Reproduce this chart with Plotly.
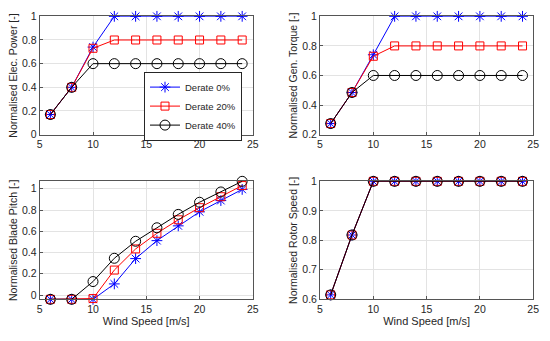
import plotly.graph_objects as go
from plotly.subplots import make_subplots

wind = [6, 8, 10, 12, 14, 16, 18, 20, 22, 24]
series_names = ["Derate 0%", "Derate 20%", "Derate 40%"]

power_0 = [0.17, 0.40, 0.74, 1.0, 1.0, 1.0, 1.0, 1.0, 1.0, 1.0]
power_20 = [0.17, 0.40, 0.73, 0.8, 0.8, 0.8, 0.8, 0.8, 0.8, 0.8]
power_40 = [0.17, 0.40, 0.60, 0.6, 0.6, 0.6, 0.6, 0.6, 0.6, 0.6]

torque_0 = [0.275, 0.485, 0.74, 1.0, 1.0, 1.0, 1.0, 1.0, 1.0, 1.0]
torque_20 = [0.275, 0.485, 0.73, 0.8, 0.8, 0.8, 0.8, 0.8, 0.8, 0.8]
torque_40 = [0.275, 0.485, 0.60, 0.6, 0.6, 0.6, 0.6, 0.6, 0.6, 0.6]

pitch_0 = [-0.04, -0.04, -0.04, 0.105, 0.343, 0.512, 0.651, 0.783, 0.889, 0.994]
pitch_20 = [-0.04, -0.04, -0.033, 0.235, 0.434, 0.581, 0.708, 0.822, 0.925, 1.03]
pitch_40 = [-0.04, -0.04, 0.127, 0.346, 0.506, 0.633, 0.759, 0.873, 0.970, 1.07]

rotor_0 = [0.615, 0.818, 1.0, 1.0, 1.0, 1.0, 1.0, 1.0, 1.0, 1.0]
rotor_20 = [0.615, 0.818, 1.0, 1.0, 1.0, 1.0, 1.0, 1.0, 1.0, 1.0]
rotor_40 = [0.615, 0.818, 1.0, 1.0, 1.0, 1.0, 1.0, 1.0, 1.0, 1.0]

panels = [
    ("Normalised Elec. Power [-]", [power_0, power_20, power_40], [0, 1], 0.2, ""),
    ("Normalised Gen. Torque [-]", [torque_0, torque_20, torque_40], [0.2, 1], 0.2, ""),
    ("Normalised Blade Pitch [-]", [pitch_0, pitch_20, pitch_40], [-0.04, 1.07], 0.2, "Wind Speed [m/s]"),
    ("Normalised Rotor Speed [-]", [rotor_0, rotor_20, rotor_40], [0.6, 1], 0.1, "Wind Speed [m/s]"),
]

styles = [
    dict(color="#0000ff", symbol="asterisk-open", size=9),
    dict(color="#ff0000", symbol="square-open", size=8),
    dict(color="#000000", symbol="circle-open", size=10),
]

FONT = "Liberation Sans, Arial, sans-serif"

fig = make_subplots(rows=2, cols=2)

xdom = [[0.0679, 0.4618], [0.586, 0.980]]
ydom = [[0.609, 0.9686], [0.1085, 0.4671]]

for i, (ytitle, data, yr, dt, xtitle) in enumerate(panels):
    r, c = i // 2 + 1, i % 2 + 1
    for k, (vals, st) in enumerate(zip(data, styles)):
        fig.add_trace(
            go.Scatter(
                x=wind, y=vals, mode="lines+markers", name=series_names[k],
                line=dict(color=st["color"], width=1),
                marker=dict(symbol=st["symbol"], size=st["size"], color=st["color"],
                            line=dict(width=1, color=st["color"])),
                showlegend=(i == 0), cliponaxis=False,
            ),
            row=r, col=c,
        )
    axis_common = dict(
        showline=True, mirror=True, linecolor="#555555", linewidth=1,
        showgrid=True, gridcolor="#e3e3e3", gridwidth=1,
        ticks="inside", ticklen=3, tickcolor="#555555",
        tickfont=dict(family=FONT, size=10.5, color="#262626"),
        zeroline=False,
    )
    fig.update_xaxes(range=[5, 25], dtick=5, tick0=5, domain=xdom[c - 1],
                     title=dict(text=xtitle, font=dict(family=FONT, size=11, color="#262626"), standoff=2),
                     row=r, col=c, **axis_common)
    fig.update_yaxes(range=yr, dtick=dt, tick0=0, domain=ydom[r - 1],
                     title=dict(text=ytitle, font=dict(family=FONT, size=10.5, color="#262626"), standoff=2),
                     row=r, col=c, **axis_common)

fig.update_layout(
    width=550, height=341,
    margin=dict(l=0, r=0, t=0, b=0),
    paper_bgcolor="white", plot_bgcolor="white",
    font=dict(family=FONT, size=10, color="#262626"),
    legend=dict(
        x=0.4418, y=0.8006, xanchor="right", yanchor="top",
        bgcolor="white", bordercolor="#262626", borderwidth=1,
        font=dict(family=FONT, size=9.5, color="#262626"),
        tracegroupgap=0, itemsizing="trace",
    ),
)

fig.write_html("out.html", config={"displayModeBar": False},
               post_script="document.body.style.margin='0px';")
